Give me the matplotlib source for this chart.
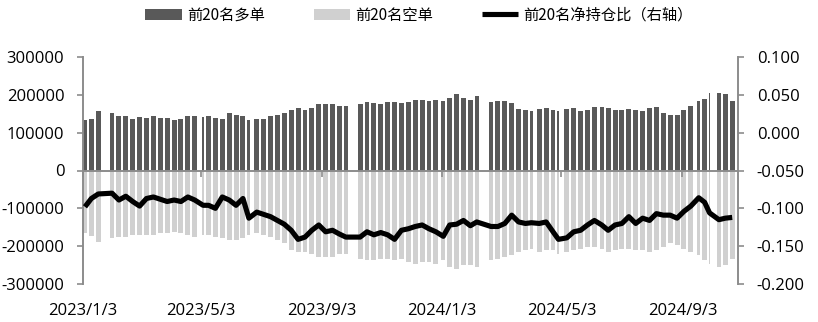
import numpy as np
import pandas as pd
import matplotlib
matplotlib.use("Agg")
import matplotlib.pyplot as plt
import matplotlib.dates as mdates
from matplotlib.ticker import FixedLocator, StrMethodFormatter

plt.rcParams['font.family'] = ['Open Sans', 'Noto Sans CJK SC', 'DejaVu Sans']
plt.rcParams['axes.unicode_minus'] = False

# ---------------- data ----------------
first_day = '2023-01-03'
last_day = '2024-10-25'
market_holidays = [
    '2023-01-02', '2023-01-23', '2023-01-24', '2023-01-25', '2023-01-26', '2023-01-27',
    '2023-04-05', '2023-05-01', '2023-05-02', '2023-05-03', '2023-06-22', '2023-06-23',
    '2023-09-29', '2023-10-02', '2023-10-03', '2023-10-04', '2023-10-05', '2023-10-06',
    '2024-01-01', '2024-02-09', '2024-02-12', '2024-02-13', '2024-02-14', '2024-02-15',
    '2024-02-16', '2024-04-04', '2024-04-05', '2024-05-01', '2024-05-02', '2024-05-03',
    '2024-06-10', '2024-09-16', '2024-09-17', '2024-10-01', '2024-10-02', '2024-10-03',
    '2024-10-04', '2024-10-07',
]

# weekly readings (one value per trading week)
long_top20 = [
    134500, 137200, 158400, 152200, 145100, 143400, 137200, 140700, 138900, 145100,
    138900, 138900, 134500, 137200, 143400, 145100, 140700, 143400, 138900, 136300,
    152200, 147800, 143400, 134500, 137200, 137200, 143400, 147800, 152200, 161100,
    165500, 161100, 165500, 176100, 176100, 176100, 169900, 169900, 177000, 180500,
    178800, 177000, 181400, 181400, 178800, 180500, 187600, 187600, 183200, 187600,
    183200, 192000, 200900, 192000, 187600, 196500, 180500, 183200, 183200, 178800,
    162800, 161100, 158400, 162800, 165500, 159300, 156600, 162800, 164600, 158400,
    161100, 168200, 168200, 165500, 161100, 161100, 162800, 161100, 156600, 165500,
    168200, 152200, 147800, 147800, 161100, 169900, 183200, 189400, 205300, 203600,
    200900, 183200,
]
short_top20 = [
    164600, 172600, 188500, 179700, 175200, 175200, 170800, 170800, 170800, 170800,
    166400, 166400, 162000, 166400, 170800, 175200, 170800, 170800, 175200, 179700,
    184100, 184100, 179700, 170800, 166400, 170800, 175200, 184100, 192900, 210600,
    215100, 215100, 219500, 228300, 228300, 228300, 221300, 221300, 232800, 237200,
    237200, 232800, 232800, 237200, 232800, 241600, 246000, 241600, 241600, 246000,
    237200, 254900, 259300, 250500, 250500, 254900, 237200, 232800, 228300, 223900,
    215100, 210600, 206200, 215100, 210600, 210600, 219500, 215100, 210600, 206200,
    201800, 201800, 206200, 215100, 210600, 206200, 206200, 210600, 210600, 215100,
    210600, 201800, 192900, 197400, 206200, 215100, 223900, 237200, 246000, 254900,
    250500, 232800,
]
net_ratio = [
    -0.098, -0.087, -0.081, -0.080, -0.089, -0.084, -0.091, -0.097, -0.087, -0.085,
    -0.088, -0.091, -0.089, -0.091, -0.085, -0.089, -0.096, -0.096, -0.100, -0.085,
    -0.089, -0.096, -0.087, -0.113, -0.105, -0.108, -0.111, -0.116, -0.121, -0.129,
    -0.141, -0.138, -0.129, -0.122, -0.131, -0.129, -0.134, -0.138, -0.138, -0.131,
    -0.135, -0.132, -0.135, -0.141, -0.129, -0.127, -0.124, -0.122, -0.127, -0.131,
    -0.137, -0.122, -0.121, -0.116, -0.123, -0.118, -0.124, -0.124, -0.120, -0.109,
    -0.118, -0.120, -0.119, -0.120, -0.118, -0.131, -0.141, -0.139, -0.131, -0.129,
    -0.122, -0.116, -0.122, -0.129, -0.122, -0.120, -0.111, -0.120, -0.113, -0.116,
    -0.107, -0.109, -0.109, -0.113, -0.104, -0.097, -0.086, -0.092, -0.106, -0.115,
    -0.113, -0.112,
]
x_tick_dates = ['2023-01-03', '2023-05-03', '2023-09-03', '2024-01-03', '2024-05-03', '2024-09-03']
x_tick_labels = ['2023/1/3', '2023/5/3', '2023/9/3', '2024/1/3', '2024/5/3', '2024/9/3']
left_ticks = [-300000, -200000, -100000, 0, 100000, 200000, 300000]
right_ticks = [-0.200, -0.150, -0.100, -0.050, 0.000, 0.050, 0.100]
series_names = ['前20名多单', '前20名空单', '前20名净持仓比（右轴）']

# ---------------- trading weeks ----------------
days = pd.bdate_range(first_day, last_day)
days = days[~days.isin(pd.to_datetime(market_holidays))]
s = pd.Series(days, index=days)
grp = s.groupby(days.to_period('W'))
wk_first = grp.min().to_numpy()
wk_last = grp.max().to_numpy()
assert len(wk_first) == len(long_top20) == len(short_top20) == len(net_ratio), len(wk_first)

x_first = mdates.date2num(wk_first)
x_last = mdates.date2num(wk_last)
widths = x_last - x_first + 1.0
x_mid = x_first + widths / 2.0

long_arr = np.array(long_top20, dtype=float)
short_arr = -np.array(short_top20, dtype=float)
ratio_arr = np.array(net_ratio, dtype=float)

# ---------------- figure ----------------
W, H = 818, 322
fig = plt.figure(figsize=(W / 100, H / 100), dpi=100)
ax = fig.add_axes([83 / W, 1 - 284 / H, (738 - 83) / W, (284 - 57) / H])

b1 = ax.bar(x_first, long_arr, widths, align='edge', color='#595959', linewidth=0,
            label=series_names[0])
b2 = ax.bar(x_first, short_arr, widths, align='edge', color='#d0d0d0', linewidth=0,
            label=series_names[1])

ax2 = ax.twinx()
ln, = ax2.plot(x_mid, ratio_arr, color='black', lw=3.7, solid_joinstyle='round',
               solid_capstyle='butt', label=series_names[2])

x0 = mdates.date2num(pd.Timestamp(first_day))
ax.set_xlim(x0, x0 + 665.4)
ax.set_ylim(-300000, 300000)
ax2.set_ylim(-0.2, 0.1)

gray = '#8c8c8c'
# left axis
ax.set_yticks(left_ticks)
ax.yaxis.set_major_formatter(StrMethodFormatter('{x:.0f}'))
ax.tick_params(axis='y', direction='out', length=4.5, width=1.2, color=gray,
               pad=9, labelsize=12, labelcolor='black')
for sp in ['top', 'right']:
    ax.spines[sp].set_visible(False)
ax.spines['left'].set_color(gray)
ax.spines['left'].set_linewidth(1.4)
ax.spines['bottom'].set_position(('data', 0))
ax.spines['bottom'].set_color(gray)
ax.spines['bottom'].set_linewidth(1.4)
ax.xaxis.set_major_locator(FixedLocator(mdates.date2num(pd.to_datetime(x_tick_dates))))
ax.tick_params(axis='x', direction='out', length=4, width=1.2, color=gray, labelbottom=False)

# date labels at the bottom
sec = ax.secondary_xaxis('bottom')
sec.set_xticks(mdates.date2num(pd.to_datetime(x_tick_dates)), labels=x_tick_labels)
sec.tick_params(length=0, pad=14, labelsize=12)
sec.spines['bottom'].set_visible(False)

# right axis
ax2.set_yticks(right_ticks)
ax2.yaxis.set_major_formatter(StrMethodFormatter('{x:.3f}'))
ax2.tick_params(axis='y', direction='out', length=4.5, width=1.2, color=gray,
                pad=9, labelsize=12)
for sp in ['top', 'left', 'bottom']:
    ax2.spines[sp].set_visible(False)
ax2.spines['right'].set_color(gray)
ax2.spines['right'].set_linewidth(1.4)

fig.legend([b1, b2, ln], series_names, loc='center', bbox_to_anchor=(0.512, 0.953),
           ncol=3, frameon=False, prop={'family': ['Noto Sans CJK SC'], 'size': 11},
           handlelength=2.4, handleheight=0.7, handletextpad=0.3, columnspacing=3.2,
           borderaxespad=0)

fig.savefig('out.png', dpi=100)
